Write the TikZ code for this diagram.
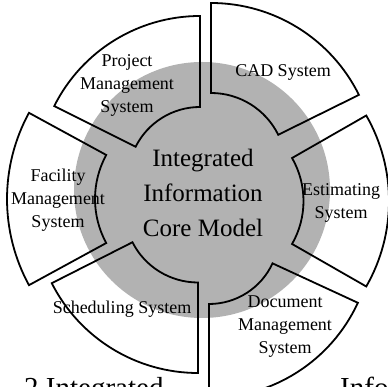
\documentclass[tikz,border=0pt]{standalone}
\usepackage{fontspec}
\setmainfont{Liberation Serif}
\def\shaderad{128}

\begin{document}
\begin{tikzpicture}[x=1pt, y=1pt]
    \tikzstyle{segment}=[draw=black, line width=1.8pt, line join=miter]
    \tikzstyle{system}=[align=center, inner sep=0pt, font=\fontsize{18}{23}\selectfont]
    \tikzstyle{core}=[align=center, inner sep=0pt, font=\fontsize{25}{35}\selectfont]
    \tikzstyle{caption}=[anchor=base west, inner sep=0pt, font=\fontsize{29}{32}\selectfont]

    \useasboundingbox (0,0) rectangle (387,387);

    % Shaded core disk
    \fill[black!30] (202,197) circle[radius=\shaderad pt];

    % Draw the six system segments
    % centre x / centre y / start angle / end angle / inner / outer radius
    \foreach \cx/\cy/\a/\b/\ri/\ro in {211/219/26.3/90/75/165, 200/208/90/153.4/72/163,
        187/188/151.4/208.6/92/180, 198/178/206.9/270/73.5/164,
        209/153/270/335.2/70/164, 217/186/-29.8/29.8/86.5/172}
        \draw[segment] (\cx,\cy) ++(\a:\ro) arc[start angle=\a, end angle=\b, radius=\ro pt]
            -- ++({\b+180}:{\ro-\ri}) arc[start angle=\b, end angle=\a, radius=\ri pt] -- cycle;

    % Core model text
    \node[core] (core) at (203,194) {Integrated\\Information\\Core Model};

    % System names
    \node[system] (proj) at (127,302) {Project\\Management\\System};
    \node[system] (cad) at (283,315) {CAD System};
    \node[system] (est) at (341,184) {Estimating\\System};
    \node[system] (fac) at (58,187) {Facility\\Management\\System};
    \node[system] (sched) at (122,78) {Scheduling System};
    \node[system] (doc) at (285,60) {Document\\Management\\System};

    % Caption, cut off at the bottom
    \node[caption] (fig) at (24,-10) {2 Integrated};
    \node[caption] (info) at (340,-10) {Infor};
\end{tikzpicture}
\end{document}
